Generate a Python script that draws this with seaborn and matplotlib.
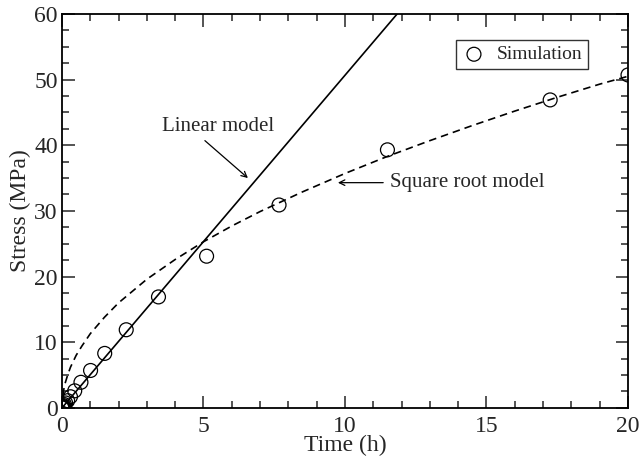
import matplotlib
matplotlib.use("Agg")
import matplotlib.pyplot as plt
import seaborn as sns
import pandas as pd
from matplotlib.ticker import MultipleLocator

sns.set_style("ticks")
plt.rcParams['font.family'] = ['Liberation Serif', 'DejaVu Serif']
plt.rcParams['mathtext.fontset'] = 'stix'

# Simulation data (time in h, stress in MPa)
sim_time = [0.0, 0.012, 0.017, 0.026, 0.039, 0.059, 0.089, 0.13, 0.20, 0.30, 0.45,
            0.67, 1.01, 1.51, 2.27, 3.41, 5.11, 7.67, 11.5, 17.25, 20.0]
sim_stress = [0.0, 0.07, 0.1, 0.15, 0.22, 0.33, 0.5, 0.75, 1.1, 1.7, 2.6,
              3.9, 5.7, 8.3, 11.9, 16.9, 23.1, 30.9, 39.3, 46.9, 50.7]

# Linear model (read endpoints)
lin_time = [0.0, 12.2]
lin_stress = [0.0, 61.8]

# Square root model
sq_time = [0.0, 0.01, 0.05, 0.1, 0.2, 0.3, 0.5, 0.7, 1.0, 1.5, 2.0, 3.0, 4.0, 5.0,
           6.0, 7.0, 8.5, 10.0, 11.5, 13.0, 14.5, 16.0, 17.5, 19.0, 20.0]
sq_stress = [0.0, 1.1, 2.5, 3.6, 5.0, 6.2, 8.0, 9.4, 11.3, 13.8, 16.0, 19.6, 22.6, 25.3,
             27.7, 29.9, 32.9, 35.7, 38.3, 40.7, 43.0, 45.2, 47.3, 49.3, 50.5]

sim_df = pd.DataFrame({"Time (h)": sim_time, "Stress (MPa)": sim_stress})
lin_df = pd.DataFrame({"Time (h)": lin_time, "Stress (MPa)": lin_stress})
sq_df = pd.DataFrame({"Time (h)": sq_time, "Stress (MPa)": sq_stress})

fig = plt.figure(figsize=(6.41, 4.63), dpi=100)
ax = fig.add_axes([0.0967, 0.119, 0.883, 0.851])

sns.lineplot(data=lin_df, x="Time (h)", y="Stress (MPa)", ax=ax, color="black",
             linewidth=1.2, sort=False)
sns.lineplot(data=sq_df, x="Time (h)", y="Stress (MPa)", ax=ax, color="black",
             linewidth=1.2, linestyle=(0, (4.5, 3)), sort=False)
sns.scatterplot(data=sim_df, x="Time (h)", y="Stress (MPa)", ax=ax, marker="o",
                s=100, facecolor="none", edgecolor="black", linewidth=0.9,
                label="Simulation", zorder=5)

ax.set_xlim(0, 20)
ax.set_ylim(0, 60)
ax.xaxis.set_major_locator(MultipleLocator(5))
ax.xaxis.set_minor_locator(MultipleLocator(1))
ax.yaxis.set_major_locator(MultipleLocator(10))
ax.yaxis.set_minor_locator(MultipleLocator(2.5))
ax.tick_params(which="both", direction="in", top=True, right=True, width=1.1,
               labelsize=17)
ax.tick_params(axis="x", which="major", pad=5.5)
ax.tick_params(axis="y", which="major", pad=3)
ax.tick_params(which="major", length=9)
ax.tick_params(which="minor", length=5)
for s in ax.spines.values():
    s.set_visible(True)
    s.set_linewidth(1.3)
    s.set_color("black")

ax.set_xlabel("Time (h)", fontsize=17, labelpad=-1)
ax.set_ylabel("Stress (MPa)", fontsize=17, labelpad=2)

leg = ax.legend(loc="upper right", bbox_to_anchor=(0.929, 0.934), fontsize=14,
                frameon=True, fancybox=False, edgecolor="black",
                handletextpad=0.5, borderpad=0.3, handlelength=1.3,
                borderaxespad=0)
leg.get_frame().set_linewidth(1.0)

ax.text(5.52, 42.9, "Linear model", fontsize=15, ha="center", va="center")
ax.annotate("", xy=(6.57, 35.0), xytext=(5.05, 40.7),
            arrowprops=dict(arrowstyle="->", color="black", lw=0.9,
                            shrinkA=0, shrinkB=0))
ax.text(11.6, 34.3, "Square root model", fontsize=15, ha="left", va="center")
ax.annotate("", xy=(9.75, 34.3), xytext=(11.35, 34.3),
            arrowprops=dict(arrowstyle="->", color="black", lw=0.9,
                            shrinkA=0, shrinkB=0))

fig.savefig("out.png", dpi=100)
